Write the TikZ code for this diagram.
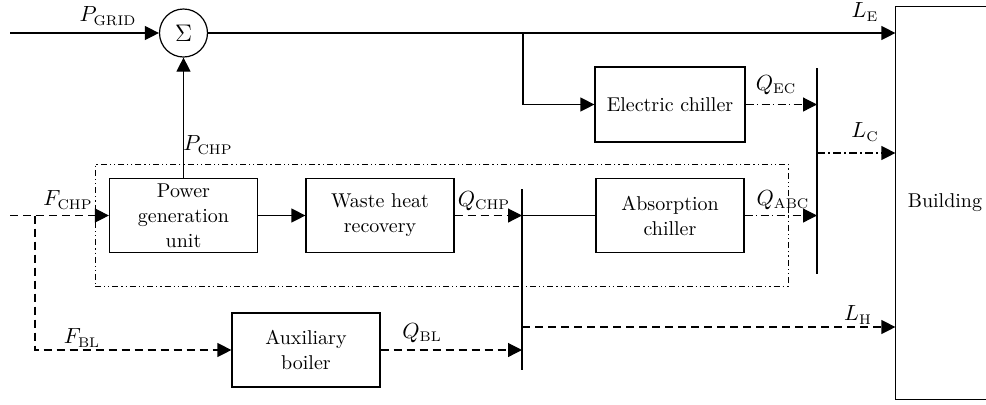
\documentclass[tikz,border=0pt]{standalone}
\usetikzlibrary{arrows.meta}
\begin{document}
\begin{tikzpicture}[x=0.5pt,y=-0.5pt, line width=0.6pt,
  tip/.style={-{Triangle[length=7pt,width=7pt]}},
  box/.style={draw, line width=0.6pt, minimum width=74pt, minimum height=37pt, align=center, inner sep=0pt, font=\fontsize{10}{12.5}\selectfont},
  lab/.style={inner sep=0pt, font=\fontsize{10.5}{12}\selectfont},
  heatline/.style={dash pattern=on 4pt off 2.5pt},
  coolline/.style={dash pattern=on 4pt off 1.6pt on 0.8pt off 1.6pt},
  chpline/.style={draw, line width=0.5pt, dash pattern=on 3pt off 1.5pt on 0.6pt off 1.5pt on 0.6pt off 1.5pt, inner sep=0pt}
]
\useasboundingbox (0,0) rectangle (986,404);
% CHP enclosure
\node[chpline, minimum width=346.5pt, minimum height=61pt] (chp) at (441.5,225) {};
% blocks
\node[draw, circle, minimum size=24pt, inner sep=0pt, font=\fontsize{13}{14}\selectfont] (sum) at (183.5,33) {$\Sigma$};
\node[box] (pgu) at (183.5,215.5) {Power\\generation\\unit};
\node[box] (whr) at (380,215.5) {Waste heat\\recovery};
\node[box] (ac) at (670,215.5) {Absorption\\chiller};
\node[box, minimum width=75pt, minimum height=37.5pt] (ec) at (670,104.5) {Electric chiller};
\node[box] (blr) at (306,350) {Auxiliary\\boiler};
\node[box, draw=none, minimum width=45pt, minimum height=196pt] (bld) at (941,203) {};
\draw (bld.north east) -- (bld.north west) -- (bld.south west) -- (bld.south east);
\node[inner sep=0pt, font=\fontsize{10}{12.5}\selectfont] (bldtext) at (945,203) {Building};
% coordinates
\coordinate (gin) at (10,33);
\coordinate (br) at (523,33);
\coordinate (fin) at (10,215.5);
\coordinate (fj) at (35,215.5);
\coordinate (b1t) at (522,189);
\coordinate (b1b) at (522,370);
\coordinate (lh) at (522,327);
\coordinate (b2t) at (817,68);
\coordinate (b2b) at (817,274);
\coordinate (lc) at (817,153);
% electricity
\draw[tip] (gin) -- (sum.west);
\draw[tip] (sum.east) -- (sum.east -| bld.west);
\draw[tip] (br) |- (ec.west);
\draw[tip] (pgu.north) -- (sum.south);
\draw[tip] (pgu.east) -- (whr.west);
% fuel
\draw[heatline, tip] (fin) -- (pgu.west);
\draw[heatline, tip] (fj) |- (blr.west);
% heat
\draw (b1t) -- (b1b);
\draw[heatline, tip] (whr.east) -- (whr.east -| b1t);
\draw (whr.east -| b1t) -- (ac.west);
\draw[heatline, tip] (blr.east) -- (blr.east -| b1t);
\draw[heatline, tip] (lh) -- (lh -| bld.west);
% cooling
\draw (b2t) -- (b2b);
\draw[coolline, tip] (ec.east) -- (ec.east -| b2t);
\draw[coolline, tip] (ac.east) -- (ac.east -| b2t);
\draw[coolline, tip] (lc) -- (lc -| bld.west);
% labels
\node[lab] (lpgrid) at (108,16) {$P_{\mathrm{GRID}}$};
\node[lab] (lle) at (865,12) {$L_{\mathrm{E}}$};
\node[lab] (lqec) at (776,85) {$Q_{\mathrm{EC}}$};
\node[lab] (llc) at (865,132) {$L_{\mathrm{C}}$};
\node[lab] (lpchp) at (208,145) {$P_{\mathrm{CHP}}$};
\node[lab] (lfchp) at (68,200) {$F_{\mathrm{CHP}}$};
\node[lab] (lqchp) at (484,201) {$Q_{\mathrm{CHP}}$};
\node[lab] (lqabc) at (783,200) {$Q_{\mathrm{ABC}}$};
\node[lab] (lfbl) at (82,338) {$F_{\mathrm{BL}}$};
\node[lab] (lqbl) at (422,333) {$Q_{\mathrm{BL}}$};
\node[lab] (llh) at (858,315) {$L_{\mathrm{H}}$};
\end{tikzpicture}
\end{document}
